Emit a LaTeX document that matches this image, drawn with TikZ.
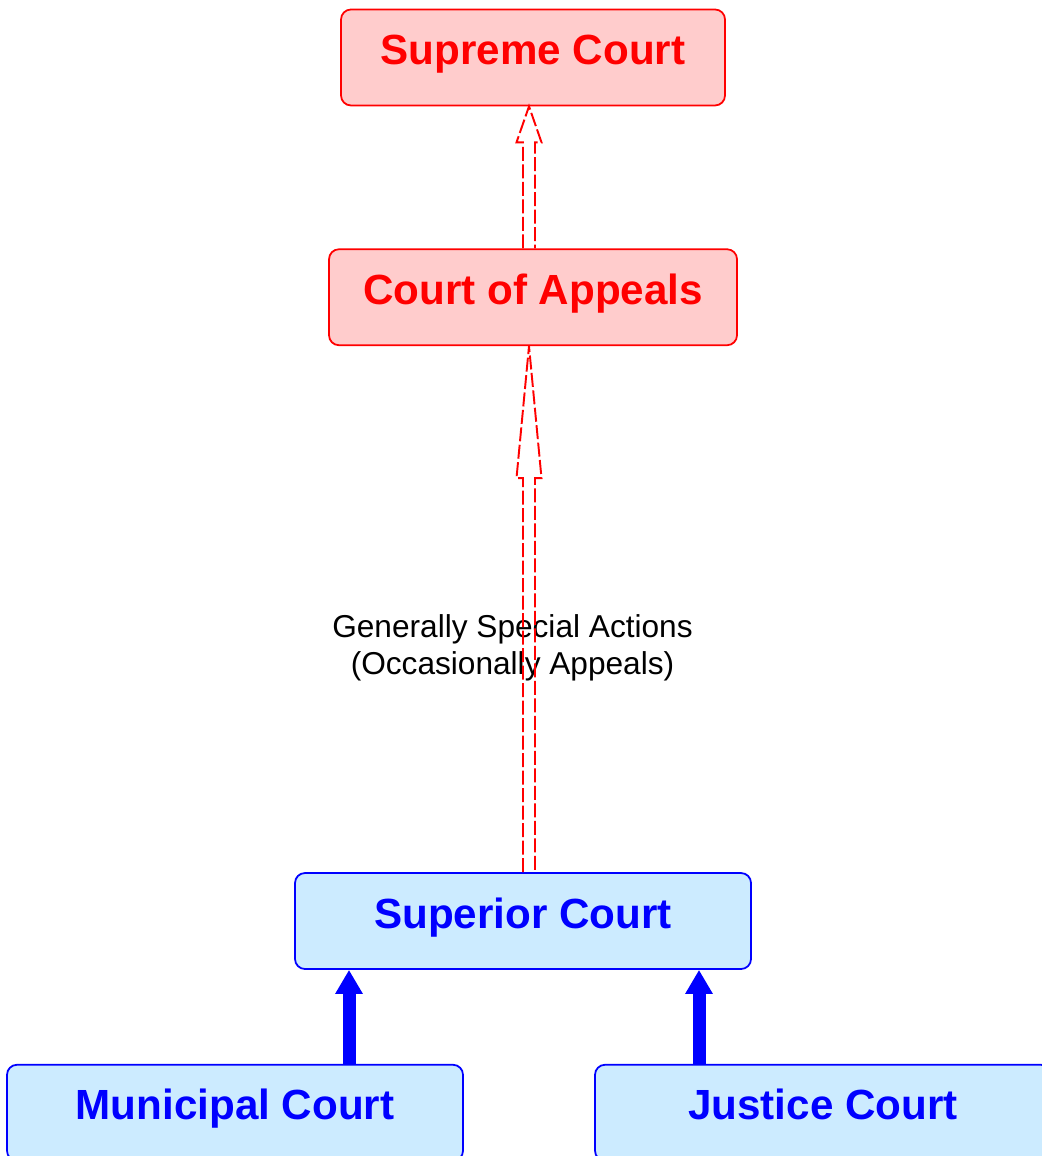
\documentclass[tikz,border=0pt]{standalone}
\usepackage{fontspec}
\setmainfont{Liberation Sans}
\usetikzlibrary{positioning,calc,arrows.meta}

\definecolor{upperfill}{HTML}{FFCCCC}
\definecolor{lowerfill}{HTML}{CCEBFF}

\tikzset{
  court/.style={draw, rounded corners=0.2cm, line width=1pt, minimum height=1.92cm,
    text height=0.6cm, text depth=0.32cm, font=\fontsize{24}{28}\selectfont\bfseries},
  upper/.style={court, draw=red, fill=upperfill, text=red},
  lower/.style={court, draw=blue, fill=lowerfill, text=blue},
  hollowline/.style={draw=red, line width=1.1pt, dash pattern=on 0.28cm off 0.07cm},
  solidup/.style={draw=blue, line width=0.26cm, -{Triangle[width=0.52cm,length=0.48cm]}},
}

% hollow dashed arrow: {from}{tip}{head length}
\newcommand{\hollowup}[3]{%
  \draw[hollowline] ($(#1)+(-0.12,0)$) -- ($(#2)+(-0.12,-#3)$) -- ($(#2)+(-0.25,-#3)$)
    -- (#2) -- ($(#2)+(0.25,-#3)$) -- ($(#2)+(0.12,-#3)$) -- ($(#1)+(0.12,0)$);}

\begin{document}
\begin{tikzpicture}
  \clip (0,0) rectangle (20.84,-23.12);

  \node[lower, minimum width=9.12cm] at (10.46,-18.42) (superior) {Superior Court};
  \node[upper, minimum width=8.16cm, above=10.52cm of superior, xshift=0.2cm] (appeals) {Court of Appeals};
  \node[upper, minimum width=7.68cm, above=2.84cm of appeals] (supreme) {Supreme Court};
  \node[lower, minimum width=9.12cm, below=1.88cm of superior, xshift=-5.76cm] (municipal) {Municipal Court};
  \node[lower, minimum width=9.12cm, below=1.88cm of superior, xshift=6cm] (justice) {Justice Court};

  \node[font=\fontsize{18}{21}\selectfont, align=center] at (10.25,-12.95) (actions)
    {Generally Special Actions\\(Occasionally Appeals)};

  % Connect the nodes
  \path (supreme.south) ++(-0.08,0) coordinate (tipA);
  \path (appeals.north) ++(-0.08,0) coordinate (footA);
  \path (appeals.south) ++(-0.08,0) coordinate (tipB);
  \path (superior.north) ++(0.12,0) coordinate (footB);
  \hollowup{footA}{tipA}{0.72}
  \hollowup{footB}{tipB}{2.64}

  \path (municipal.north) ++(2.28,0) coordinate (muniout);
  \path (justice.north) ++(-2.48,0) coordinate (justout);
  \draw[solidup] (muniout) -- (muniout |- superior.south);
  \draw[solidup] (justout) -- (justout |- superior.south);
\end{tikzpicture}
\end{document}
